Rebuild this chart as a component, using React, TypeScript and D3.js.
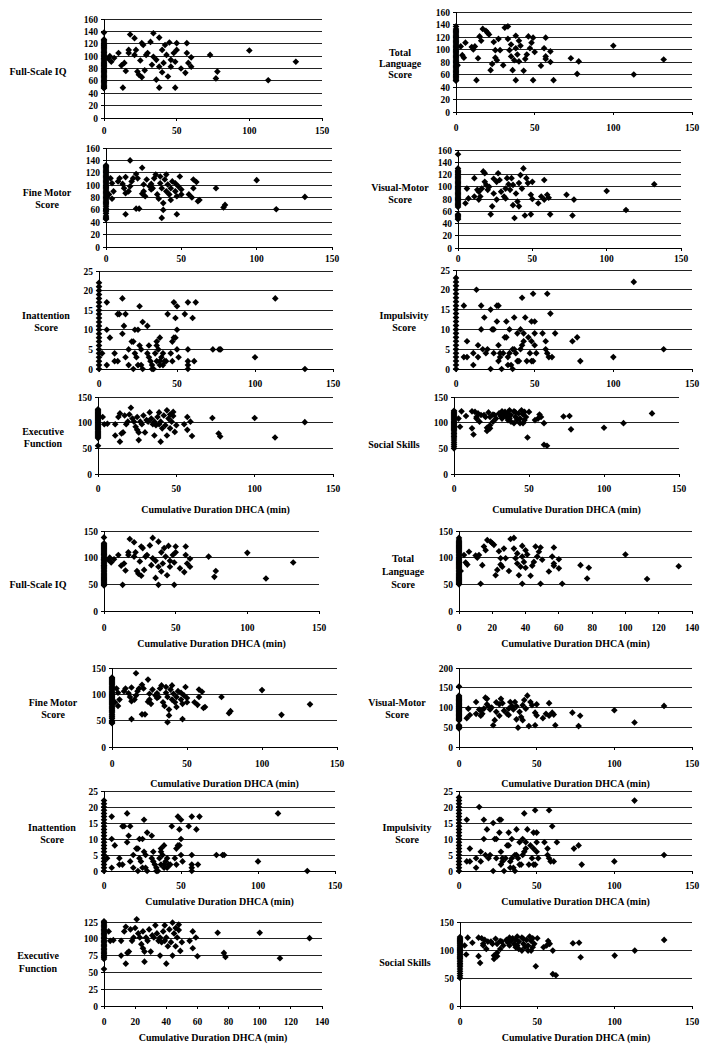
import React from 'react';
import * as d3 from 'd3';

// ---------- DATA (x = cumulative DHCA duration in min, y = score) ----------
const fsiqAtZero = [138, 127, 125, 123, 121, 119, 117, 116, 114, 112, 110, 108, 106, 105, 103, 101, 99, 97, 96, 94, 92, 90, 88, 86, 85, 83, 81, 79, 77, 75, 73, 71, 69, 67, 65, 63, 61, 59, 57, 55, 53, 51, 49, 48];
const fsiqPoints: [number, number][] = [[3,96],[5,91],[7,97],[4,100],[10,105],[12,85],[14,89],[13,49],[15,76],[18,135],[17,110],[17,105],[21,129],[21,102],[22,110],[23,75],[24,70],[25,93],[26,66],[26,121],[27,118],[28,77],[29,102],[30,105],[32,123],[33,86],[34,137],[34,99],[36,62],[36,94],[38,130],[38,49],[38,83],[40,110],[40,74],[41,89],[42,118],[43,102],[44,67],[45,122],[46,94],[46,83],[48,105],[49,49],[49,91],[50,110],[50,121],[53,80],[56,73],[57,121],[57,105],[58,89],[60,83],[60,98],[73,102],[77,64],[78,75],[100,109],[113,61],[132,91]];

const langAtZero = [137, 133, 131, 129, 127, 125, 123, 121, 119, 117, 115, 113, 111, 109, 107, 105, 103, 101, 99, 97, 95, 93, 91, 89, 87, 85, 83, 81, 79, 77, 75, 73, 71, 69, 67, 65, 63, 61, 59, 57, 55, 53, 51, 50];
const langPoints: [number, number][] = [[1,75],[3,105],[4,91],[5,87],[6,111],[10,104],[11,100],[12,105],[13,51],[14,86],[15,121],[16,114],[17,133],[19,130],[20,127],[21,124],[22,67],[23,77],[24,112],[25,99],[25,87],[26,83],[27,117],[28,99],[30,75],[31,135],[33,137],[33,117],[34,99],[35,108],[35,89],[36,67],[37,83],[38,122],[38,51],[38,102],[39,92],[40,81],[40,114],[41,106],[43,66],[44,85],[45,92],[46,121],[47,102],[48,111],[49,51],[49,119],[50,96],[54,74],[56,102],[57,119],[57,89],[57,85],[60,97],[60,80],[62,51],[73,86],[77,61],[78,81],[100,106],[113,60],[132,84]];

const fineAtZero = [132, 130, 128, 126, 124, 122, 120, 118, 116, 114, 112, 110, 108, 106, 104, 102, 100, 98, 96, 94, 92, 90, 88, 86, 84, 82, 80, 78, 76, 74, 72, 70, 68, 65, 62, 59, 57, 54, 50, 48, 46, 45];
const finePoints: [number, number][] = [[2,85],[3,111],[4,103],[5,90],[4,78],[8,106],[9,111],[11,102],[12,95],[13,87],[13,113],[13,53],[15,90],[16,140],[16,98],[17,106],[18,111],[20,118],[20,62],[21,111],[22,62],[24,128],[24,86],[25,101],[25,90],[26,82],[27,109],[29,98],[30,93],[30,102],[31,95],[32,111],[33,117],[34,85],[35,78],[36,103],[36,114],[37,47],[37,95],[38,60],[38,71],[39,109],[40,90],[40,117],[41,101],[42,85],[43,76],[43,95],[44,106],[46,90],[46,103],[47,53],[47,82],[48,98],[49,114],[50,93],[50,85],[55,85],[57,80],[58,109],[58,95],[60,105],[61,74],[62,76],[73,95],[78,64],[79,68],[100,108],[113,61],[132,81]];

const vmAtZero = [153, 130, 127, 125, 123, 121, 119, 117, 115, 113, 111, 109, 107, 105, 103, 101, 99, 97, 95, 93, 91, 89, 87, 85, 83, 81, 79, 77, 75, 73, 71, 69, 67, 55, 53, 51, 49, 47];
const vmPoints: [number, number][] = [[5,73],[6,97],[7,81],[11,114],[11,84],[13,95],[14,79],[14,92],[15,84],[16,97],[17,125],[18,122],[18,108],[19,103],[20,95],[21,100],[22,55],[23,68],[24,113],[24,89],[26,79],[26,108],[27,122],[28,111],[29,92],[31,84],[32,97],[32,81],[33,114],[34,104],[35,95],[36,114],[37,70],[37,103],[38,49],[39,89],[40,76],[41,68],[41,106],[42,119],[43,97],[44,130],[45,53],[46,114],[47,106],[49,87],[49,55],[50,80],[50,108],[54,73],[56,84],[58,111],[58,79],[60,87],[61,82],[62,55],[73,87],[78,79],[77,53],[100,93],[113,62],[132,104]];

const inattAtZero = [22, 21, 20, 19, 18, 17, 16, 15, 14, 13, 12, 11, 10, 9, 8, 7, 6, 5, 4, 3, 2, 1, 0];
const inattPoints: [number, number][] = [[2,4],[5,17],[5,10],[7,8],[5,1],[10,4],[10,2],[12,2],[12,14],[13,14],[15,9],[15,18],[16,11],[17,3],[17,14],[19,5],[19,1],[21,7],[22,0],[22,7],[23,10],[23,4],[24,3],[25,10],[25,1],[26,6],[26,16],[27,5],[27,1],[28,0],[28,12],[31,4],[31,11],[32,3],[32,6],[33,2],[34,1],[34,0],[35,0],[36,4],[37,6],[37,2],[37,7],[38,5],[39,8],[39,2],[39,1],[40,3],[41,1],[41,4],[42,2],[43,2],[44,14],[46,4],[47,2],[47,7],[48,8],[48,17],[49,8],[49,13],[50,10],[50,16],[50,5],[51,3],[55,14],[57,17],[57,5],[57,2],[57,1],[57,0],[60,13],[61,2],[62,17],[73,5],[77,5],[78,5],[100,3],[113,18],[132,0]];

const impulAtZero = [23, 22, 21, 20, 19, 18, 17, 16, 15, 14, 13, 12, 11, 10, 9, 8, 7, 6, 5, 4, 3, 2, 1, 0];
const impulPoints: [number, number][] = [[5,16],[7,7],[5,3],[7,3],[11,1],[11,4],[13,20],[14,6],[14,3],[16,16],[16,10],[17,5],[18,13],[19,4],[20,5],[22,15],[22,0],[23,10],[24,10],[24,4],[26,12],[26,16],[27,16],[27,6],[27,2],[28,3],[28,4],[29,0],[30,4],[31,8],[32,12],[32,8],[33,1],[33,3],[34,10],[34,4],[35,1],[36,5],[36,0],[37,13],[37,5],[38,4],[39,9],[39,2],[40,2],[41,10],[41,5],[42,6],[42,18],[43,9],[43,7],[44,13],[45,2],[46,8],[47,4],[48,7],[48,2],[48,12],[49,19],[49,2],[50,12],[50,9],[50,6],[51,4],[55,9],[57,5],[57,7],[58,4],[58,19],[59,3],[60,14],[61,3],[63,9],[74,7],[77,8],[79,2],[100,3],[113,22],[132,5]];

const execAtZero = [126, 124, 122, 120, 118, 116, 114, 112, 110, 108, 106, 104, 102, 100, 98, 96, 94, 92, 90, 88, 86, 84, 82, 80, 78, 76, 74, 72, 70, 55];
const execPoints: [number, number][] = [[3,111],[4,97],[6,98],[11,97],[11,75],[13,111],[14,118],[14,63],[15,79],[16,81],[17,114],[18,97],[19,102],[20,116],[21,129],[22,108],[23,102],[24,92],[25,86],[25,111],[26,66],[26,81],[27,102],[28,97],[29,114],[30,81],[31,105],[32,102],[33,120],[34,108],[35,97],[36,102],[36,75],[37,95],[38,111],[39,120],[39,97],[40,102],[40,63],[41,89],[42,114],[43,95],[44,124],[44,75],[45,108],[46,89],[46,116],[47,102],[48,121],[48,113],[49,82],[50,95],[55,97],[57,111],[57,86],[59,102],[60,74],[73,109],[77,79],[78,73],[100,109],[113,71],[132,101]];

const socialAtZero = [123, 121, 119, 117, 115, 113, 111, 109, 107, 105, 103, 101, 99, 97, 95, 93, 91, 89, 87, 85, 82, 79, 76, 73, 70, 66, 62, 58, 54, 50];
const socialPoints: [number, number][] = [[3,108],[4,92],[5,122],[8,113],[12,122],[12,89],[13,77],[14,121],[15,108],[15,111],[16,118],[17,102],[18,115],[20,115],[21,111],[22,90],[22,84],[23,120],[24,89],[24,111],[24,95],[26,116],[26,102],[27,115],[28,108],[30,118],[31,113],[32,122],[32,108],[33,116],[34,121],[35,111],[36,105],[36,118],[37,124],[37,108],[38,102],[38,115],[40,122],[40,99],[41,111],[41,120],[42,105],[43,118],[44,99],[44,108],[45,124],[46,99],[46,116],[47,105],[47,121],[48,111],[49,71],[50,121],[54,105],[56,108],[57,116],[58,111],[60,99],[60,57],[62,55],[73,112],[77,113],[78,87],[100,90],[113,99],[132,118]];

const xTitle = 'Cumulative Duration DHCA (min)';

const measures: Record<string, { zero: number[]; pts: [number, number][] }> = {
  fsiq: { zero: fsiqAtZero, pts: fsiqPoints },
  lang: { zero: langAtZero, pts: langPoints },
  fine: { zero: fineAtZero, pts: finePoints },
  vm: { zero: vmAtZero, pts: vmPoints },
  inatt: { zero: inattAtZero, pts: inattPoints },
  impul: { zero: impulAtZero, pts: impulPoints },
  exec: { zero: execAtZero, pts: execPoints },
  social: { zero: socialAtZero, pts: socialPoints },
};

type Panel = {
  m: string; label: string[]; lx: number; ly: number[];
  left: number; right: number; top: number; bottom: number;
  yMax: number; yStep: number; xMax: number; xStep: number;
  xlabY: number; titleY?: number;
};

const panels: Panel[] = [
  { m: 'fsiq', label: ['Full-Scale IQ'], lx: 38, ly: [71], left: 104, right: 322, top: 19, bottom: 118, yMax: 160, yStep: 20, xMax: 150, xStep: 50, xlabY: 130 },
  { m: 'lang', label: ['Total', 'Language', 'Score'], lx: 400, ly: [52, 63, 74], left: 456, right: 692, top: 12, bottom: 112, yMax: 160, yStep: 20, xMax: 150, xStep: 50, xlabY: 127 },
  { m: 'fine', label: ['Fine Motor', 'Score'], lx: 47, ly: [192, 204], left: 106, right: 332, top: 148, bottom: 247, yMax: 160, yStep: 20, xMax: 150, xStep: 50, xlabY: 258 },
  { m: 'vm', label: ['Visual-Motor', 'Score'], lx: 400, ly: [187, 199], left: 458, right: 681, top: 150, bottom: 248, yMax: 160, yStep: 20, xMax: 150, xStep: 50, xlabY: 258 },
  { m: 'inatt', label: ['Inattention', 'Score'], lx: 46, ly: [315, 327], left: 99, right: 333, top: 271, bottom: 369, yMax: 25, yStep: 5, xMax: 150, xStep: 50, xlabY: 383 },
  { m: 'impul', label: ['Impulsivity', 'Score'], lx: 404, ly: [315, 327], left: 456, right: 692, top: 270, bottom: 369, yMax: 25, yStep: 5, xMax: 150, xStep: 50, xlabY: 383 },
  { m: 'exec', label: ['Executive', 'Function'], lx: 43, ly: [431, 443], left: 98, right: 333, top: 397, bottom: 474, yMax: 150, yStep: 50, xMax: 150, xStep: 50, xlabY: 488, titleY: 509 },
  { m: 'social', label: ['Social Skills'], lx: 394, ly: [444], left: 454, right: 679, top: 397, bottom: 474, yMax: 150, yStep: 50, xMax: 150, xStep: 50, xlabY: 488, titleY: 509 },
  { m: 'fsiq', label: ['Full-Scale IQ'], lx: 38, ly: [584], left: 104, right: 319, top: 531, bottom: 611, yMax: 150, yStep: 50, xMax: 150, xStep: 50, xlabY: 627, titleY: 643 },
  { m: 'lang', label: ['Total', 'Language', 'Score'], lx: 403, ly: [558, 571, 584], left: 459, right: 692, top: 531, bottom: 611, yMax: 150, yStep: 50, xMax: 140, xStep: 20, xlabY: 627, titleY: 643 },
  { m: 'fine', label: ['Fine Motor', 'Score'], lx: 53, ly: [702, 714], left: 112, right: 337, top: 668, bottom: 747, yMax: 150, yStep: 50, xMax: 150, xStep: 50, xlabY: 763, titleY: 783 },
  { m: 'vm', label: ['Visual-Motor', 'Score'], lx: 397, ly: [702, 714], left: 459, right: 692, top: 668, bottom: 747, yMax: 200, yStep: 50, xMax: 150, xStep: 50, xlabY: 763, titleY: 783 },
  { m: 'inatt', label: ['Inattention', 'Score'], lx: 52, ly: [827, 839], left: 104, right: 335, top: 791, bottom: 871, yMax: 25, yStep: 5, xMax: 150, xStep: 50, xlabY: 885, titleY: 901 },
  { m: 'impul', label: ['Impulsivity', 'Score'], lx: 407, ly: [827, 839], left: 459, right: 692, top: 791, bottom: 871, yMax: 25, yStep: 5, xMax: 150, xStep: 50, xlabY: 885, titleY: 901 },
  { m: 'exec', label: ['Executive', 'Function'], lx: 38, ly: [955, 968], left: 104, right: 322, top: 922, bottom: 1006, yMax: 125, yStep: 25, xMax: 140, xStep: 20, xlabY: 1021, titleY: 1037 },
  { m: 'social', label: ['Social Skills'], lx: 405, ly: [962], left: 460, right: 692, top: 922, bottom: 1006, yMax: 150, yStep: 50, xMax: 150, xStep: 50, xlabY: 1021, titleY: 1037 },
];

const FONT = '"Liberation Serif", "Times New Roman", serif';
const diamond = d3.symbol().type(d3.symbolSquare).size(22)() as string;

function PanelView({ p }: { p: Panel }) {
  const data = measures[p.m];
  const x = d3.scaleLinear().domain([0, p.xMax]).range([p.left, p.right]);
  const y = d3.scaleLinear().domain([0, p.yMax]).range([p.bottom, p.top]);
  const yTicks = d3.range(0, p.yMax + 0.001, p.yStep);
  const xTicks = d3.range(0, p.xMax + 0.001, p.xStep);
  const all: [number, number][] = [...data.zero.map((v) => [0, v] as [number, number]), ...data.pts];
  return (
    <g>
      {yTicks.filter((t) => t > 0).map((t) => (
        <line key={'g' + t} x1={p.left} x2={p.right} y1={y(t)} y2={y(t)} stroke="#222" strokeWidth={1} shapeRendering="crispEdges" />
      ))}
      <line x1={p.left} x2={p.right} y1={p.bottom} y2={p.bottom} stroke="#000" strokeWidth={1} shapeRendering="crispEdges" />
      <line x1={p.left} x2={p.left} y1={p.top} y2={p.bottom} stroke="#000" strokeWidth={1} shapeRendering="crispEdges" />
      {yTicks.map((t) => (
        <g key={'y' + t}>
          <line x1={p.left - 3} x2={p.left} y1={y(t)} y2={y(t)} stroke="#000" shapeRendering="crispEdges" />
          <text x={p.left - 6} y={y(t) + 3.5} textAnchor="end" fontSize={9.5} fontWeight="bold" fontFamily={FONT}>{t}</text>
        </g>
      ))}
      {xTicks.map((t) => (
        <g key={'x' + t}>
          <line x1={x(t)} x2={x(t)} y1={p.bottom} y2={p.bottom + 3} stroke="#000" shapeRendering="crispEdges" />
          <text x={x(t)} y={p.xlabY + 3.5} textAnchor="middle" fontSize={9.5} fontWeight="bold" fontFamily={FONT}>{t}</text>
        </g>
      ))}
      {p.label.map((s, i) => (
        <text key={'l' + i} x={p.lx} y={p.ly[i] + 3.5} textAnchor="middle" fontSize={10} fontWeight="bold" fontFamily={FONT}>{s}</text>
      ))}
      {p.titleY !== undefined && (
        <text x={(p.left + p.right) / 2} y={p.titleY + 3.5} textAnchor="middle" fontSize={10} fontWeight="bold" fontFamily={FONT}>{xTitle}</text>
      )}
      {all.map((d, i) => (
        <path key={'p' + i} d={diamond} transform={`translate(${x(d[0])},${y(d[1])}) rotate(45)`} fill="#000" />
      ))}
    </g>
  );
}

export default function App() {
  return (
    <svg width={707} height={1048} style={{ position: 'absolute', left: 0, top: 0, background: '#fff' }}>
      <rect width={707} height={1048} fill="#fff" />
      {panels.map((p, i) => <PanelView key={i} p={p} />)}
    </svg>
  );
}
